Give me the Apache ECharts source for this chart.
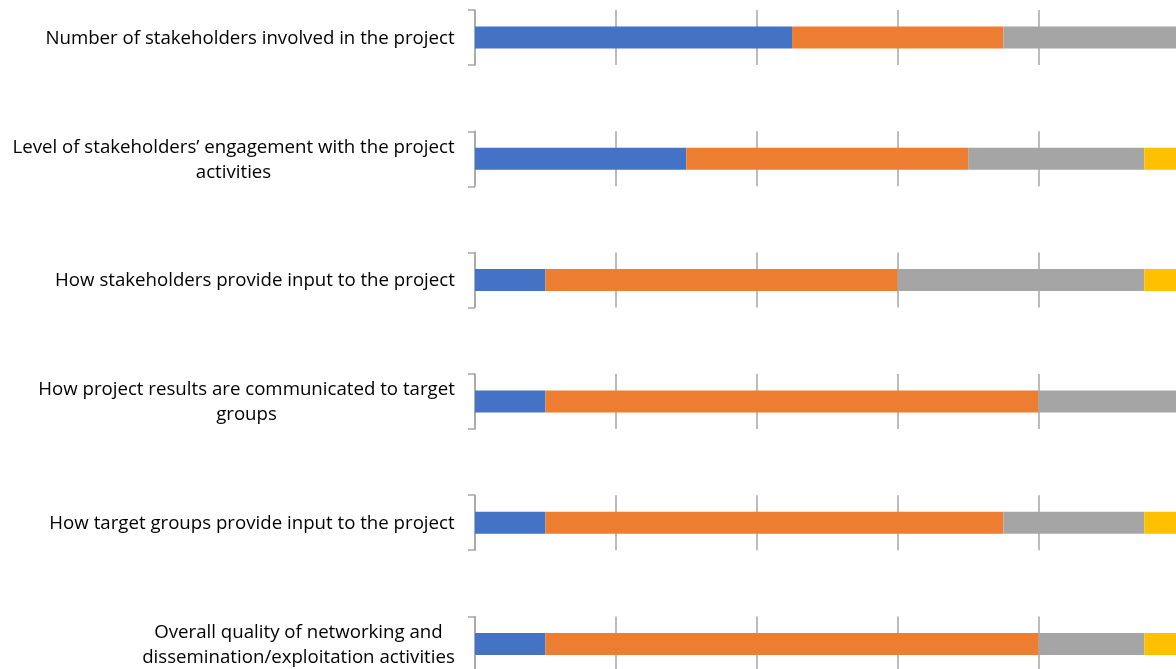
<!DOCTYPE html>
<html>
<head>
<meta charset="utf-8">
<script src="https://cdn.jsdelivr.net/npm/echarts@6/dist/echarts.min.js"></script>
<style>
  html, body { margin: 0; padding: 0; background: #fff; }
  #chart { width: 1176px; height: 669px; }
</style>
</head>
<body>
<div id="chart"></div>
<script>
// Survey items, one per row (line breaks as they wrap in the chart)
const categories = [
  'Number of stakeholders involved in the project',
  'Level of stakeholders\u2019 engagement with the project\nactivities',
  'How stakeholders provide input to the project',
  'How project results are communicated to target\ngroups',
  'How target groups provide input to the project',
  'Overall quality of networking and\ndissemination/exploitation activities'
];

// Share of responses (%) per rating level, one value per item above
const level1 = [22.5, 15, 5, 5, 5, 5];
const level2 = [15, 20, 25, 35, 32.5, 35];
const level3 = [45, 12.5, 17.5, 42.5, 10, 7.5];
const level4 = [17.5, 52.5, 52.5, 17.5, 52.5, 52.5];

// Axis tick values (%)
const xTicks = [0, 10, 20, 30, 40, 50, 60, 70, 80, 90, 100];

const levels = [level1, level2, level3, level4];
const colors = ['#4472C4', '#ED7D31', '#A5A5A5', '#FFC000'];

const FONT_FAMILY = '"Open Sans", Lato, sans-serif';
const FONT_SIZE = 18.67;
const LINE_H = 25;

const measureCtx = document.createElement('canvas').getContext('2d');
measureCtx.font = FONT_SIZE + 'px ' + FONT_FAMILY;
function textWidth(s) { return Math.ceil(measureCtx.measureText(s).width); }

const ROW_TOP = 10, ROW_STEP = 121.3, ROW_H = 55;
const LEFT = 475, PLOT_W = 1409;
const lineColor = '#A6A6A6';

const grids = [], xAxes = [], yAxes = [], series = [];

categories.forEach((cat, i) => {
  grids.push({
    left: LEFT, top: ROW_TOP + i * ROW_STEP, width: PLOT_W, height: ROW_H,
    outerBoundsMode: 'none', containLabel: false
  });

  xAxes.push({
    type: 'value', gridIndex: i,
    min: xTicks[0], max: xTicks[xTicks.length - 1], interval: xTicks[1] - xTicks[0],
    axisLine: { show: false }, axisTick: { show: false }, axisLabel: { show: false },
    splitLine: { show: true, lineStyle: { color: lineColor, width: 1.5 } }
  });

  const lines = cat.split('\n');
  const w = Math.max.apply(null, lines.map(textWidth));
  yAxes.push({
    type: 'category', gridIndex: i, data: [cat],
    axisLine: { show: true, lineStyle: { color: lineColor, width: 1.5 } },
    axisTick: { show: true, length: 7, lineStyle: { color: lineColor, width: 1.5 } },
    axisLabel: {
      margin: 20,
      color: '#000',
      fontFamily: FONT_FAMILY,
      fontSize: FONT_SIZE,
      lineHeight: LINE_H,
      align: 'right',
      formatter: v => v.split('\n').map(l => '{c|' + l + '}').join('\n'),
      rich: {
        c: { width: w, align: 'center', fontFamily: FONT_FAMILY, fontSize: FONT_SIZE, lineHeight: LINE_H, color: '#000', padding: [2, 0, 0, 0] }
      }
    }
  });

  levels.forEach((vals, s) => {
    series.push({
      type: 'bar', stack: 'row' + i,
      xAxisIndex: i, yAxisIndex: i,
      barWidth: 22,
      itemStyle: { color: colors[s] },
      data: [vals[i]]
    });
  });
});

const chart = echarts.init(document.getElementById('chart'), null, { renderer: 'canvas' });
chart.setOption({
  animation: false,
  backgroundColor: '#fff',
  grid: grids,
  xAxis: xAxes,
  yAxis: yAxes,
  series: series
});
</script>
</body>
</html>
